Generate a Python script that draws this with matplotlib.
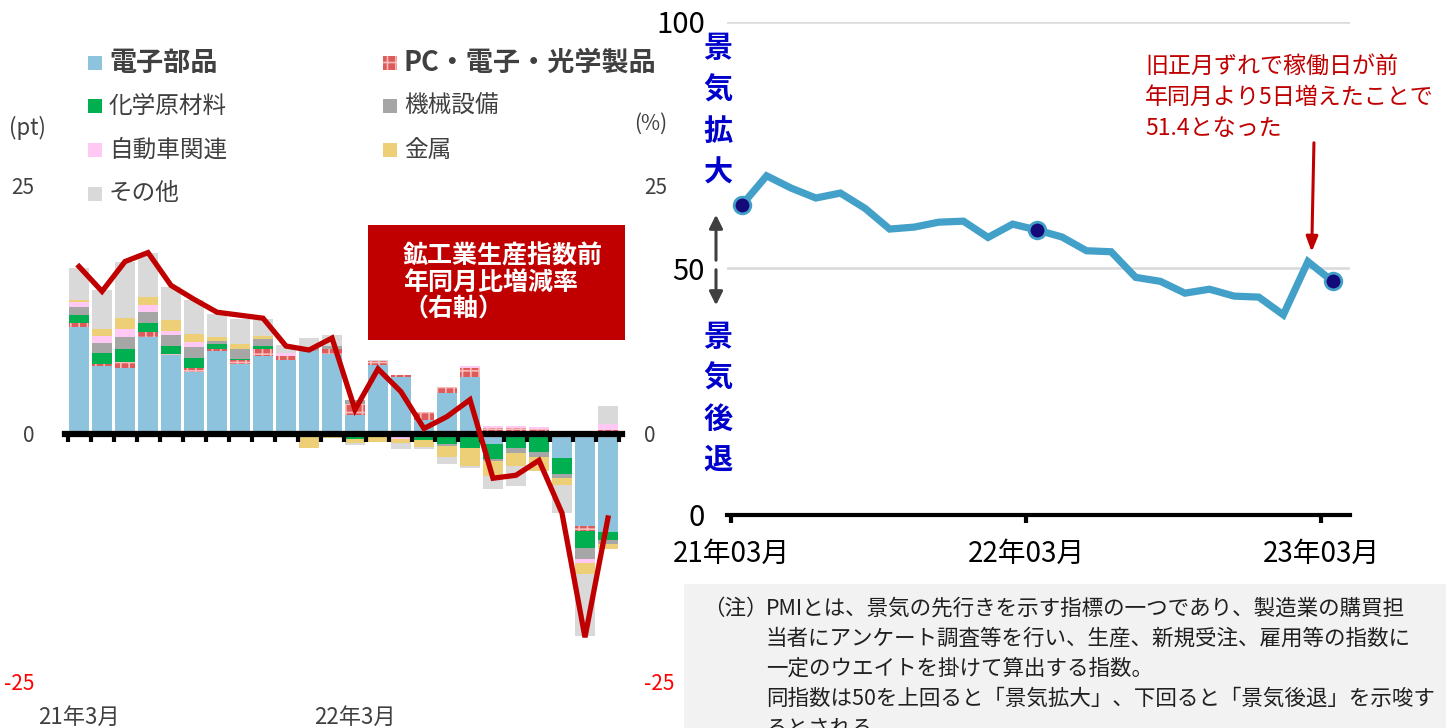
import numpy as np
import matplotlib
matplotlib.use("Agg")
import matplotlib.pyplot as plt
from matplotlib.patches import Rectangle
import matplotlib.transforms as mtransforms

plt.rcParams['font.family'] = ['Noto Sans CJK JP', 'DejaVu Sans']
plt.rcParams['hatch.linewidth'] = 1.2

W, H = 1446, 728

# ---- 左: 鉱工業生産の寄与度 (pt) と前年同月比 (%) ----
months_left = np.arange(24)           # 21年3月 .. 23年2月
left_tick_pos = [0, 12]
left_tick_labels = ['21年3月', '22年3月']

elec = [10.7, 6.76, 6.59, 9.7, 7.86, 6.19, 8.29, 7.02, 7.76, 7.36, 8.3, 8.0,
        1.84, 6.86, 5.69, 1.4, 4.08, 5.69, -1.04, 0.0, 0.0, -2.47, -9.3, -9.9]
pc = [0.4, 0.27, 0.6, 0.47, 0.17, 0.43, 0.2, 0.33, 0.77, 0.4, 0.0, 0.5,
      1.1, 0.4, 0.17, 0.77, 0.6, 0.94, 0.57, 0.57, 0.5, 0.0, -0.5, 0.4]
chem = [0.84, 1.07, 1.27, 0.94, 0.77, 0.97, 0.5, 0.17, 0.23, 0.0, -0.4, 0.0,
        -0.6, 0.0, 0.0, -0.63, -1.04, -1.5, -1.54, -1.47, -1.87, -1.57, -1.74, -0.8]
mach = [0.77, 1.0, 1.24, 1.1, 1.07, 1.1, 0.27, 0.97, 0.74, 0.0, 0.3, 0.33,
        0.45, 0.0, 0.0, 0.0, -0.2, 0.0, -0.23, -0.5, -0.5, -0.43, -1.1, -0.43]
auto = [0.5, 0.67, 0.84, 0.67, 0.4, 0.47, 0.0, 0.0, 0.0, 0.33, 0.0, 0.0,
        0.0, 0.0, -0.57, 0.0, 0.0, 0.17, 0.17, 0.17, 0.17, 0.0, -0.4, 0.53]
metal = [0.27, 0.74, 1.1, 0.87, 1.17, 0.84, 0.4, 0.47, 0.33, 0.0, -1.1, -0.5,
         -0.4, -0.83, -0.4, -0.74, -1.14, -1.74, -1.44, -1.27, -1.44, -0.67, -1.1, -0.5]
other = [3.18, 3.88, 5.65, 4.38, 3.28, 3.44, 2.37, 2.58, 1.7, 0.77, 1.0, 1.1,
         -0.17, 0.1, -0.6, -0.2, -0.67, -0.2, -1.34, -2.07, 0.0, -2.84, -6.2, 1.8]
ip_yoy = [16.8, 14.3, 17.3, 18.2, 14.9, 13.5, 12.2, 11.9, 11.6, 8.8, 8.4, 9.6,
          2.4, 6.5, 4.2, 0.5, 1.7, 3.4, -4.5, -4.2, -2.7, -8.0, -20.5, -8.5]

series_names = ['電子部品', 'PC・電子・光学製品', '化学原材料', '機械設備', '自動車関連', '金属', 'その他']
series_vals = [elec, pc, chem, mach, auto, metal, other]
series_colors = ['#8dc3dd', '#df5a5a', '#00b050', '#a6a6a6', '#ffc9f4', '#edcf78', '#d9d9d9']
pc_hatch_color = '#f6bcbc'

# ---- 右: PMI ----
pmi = [62.9, 68.8, 66.3, 64.3, 65.3, 62.2, 58.0, 58.4, 59.4, 59.6, 56.3, 59.0,
       57.8, 56.4, 53.6, 53.4, 48.2, 47.4, 45.0, 45.8, 44.4, 44.2, 40.6, 51.4, 47.4]
months_right = np.arange(25)          # 21年03月 .. 23年03月
right_tick_pos = [0, 12, 24]
right_tick_labels = ['21年03月', '22年03月', '23年03月']
marked = [0, 12, 24]

fig = plt.figure(figsize=(W / 100, H / 100), dpi=100)

# ================= left chart =================
ax1 = fig.add_axes([65 / W, 46 / H, 557 / W, 497 / H])
pos_bottom = np.zeros(24)
neg_bottom = np.zeros(24)
for name, vals, col in zip(series_names, series_vals, series_colors):
    v = np.array(vals)
    bottom = np.where(v >= 0, pos_bottom, neg_bottom)
    if name.startswith('PC'):
        ax1.bar(months_left, v, bottom=bottom, width=0.83, color=col,
                edgecolor=pc_hatch_color, hatch='++', linewidth=0, zorder=1)
    else:
        ax1.bar(months_left, v, bottom=bottom, width=0.83, color=col,
                linewidth=0, zorder=1)
    pos_bottom = pos_bottom + np.where(v >= 0, v, 0)
    neg_bottom = neg_bottom + np.where(v < 0, v, 0)

ax1.set_xlim(-0.61, 23.61)
ax1.set_ylim(-25, 25)
for s in ['top', 'left', 'right']:
    ax1.spines[s].set_visible(False)
ax1.spines['bottom'].set_position(('data', 0))
ax1.spines['bottom'].set_linewidth(4.5)
ax1.spines['bottom'].set_zorder(3)
ax1.set_xticks(np.arange(-0.5, 24, 1))
ax1.tick_params(axis='x', direction='out', length=5.5, width=3, labelbottom=False)
ax1.set_yticks([-25, 0, 25])
ax1.set_yticklabels(['-25', '0', '25'])
ax1.tick_params(axis='y', length=0, pad=22, labelsize=15, labelcolor='#404040')
ax1.get_yticklabels()[0].set_color('red')

trans = mtransforms.blended_transform_factory(ax1.transData, ax1.transAxes)
for p, lab in zip(left_tick_pos, left_tick_labels):
    ax1.text(p, -0.072, lab, transform=trans, ha='center', va='center',
             fontsize=16, color='#404040')

ax1b = ax1.twinx()
ax1b.plot(months_left, ip_yoy, color='#c00000', lw=3.8, solid_joinstyle='miter', zorder=5)
ax1b.set_ylim(-25, 25)
for s in ax1b.spines.values():
    s.set_visible(False)
ax1b.set_yticks([-25, 0, 25])
ax1b.set_yticklabels(['-25', '0', '25'])
ax1b.tick_params(axis='y', length=0, pad=16, labelsize=15, labelcolor='#404040')
ax1b.get_yticklabels()[0].set_color('red')

fig.text(9 / W, 1 - 128 / H, '(pt)', fontsize=16, color='#404040', va='center')
fig.text(634 / W, 1 - 124 / H, '(%)', fontsize=15, color='#404040', va='center')

# legend (2 columns)
leg_xy = [(88, 63), (88, 106), (88, 150), (88, 194), (383, 63), (383, 106), (383, 150)]
leg_order = [0, 2, 4, 6, 1, 3, 5]
for (lx, ly), k in zip(leg_xy, leg_order):
    if k == 1:
        fig.add_artist(Rectangle((lx / W, 1 - (ly + 7) / H), 14 / W, 14 / H,
                                 transform=fig.transFigure, facecolor=series_colors[k],
                                 edgecolor=pc_hatch_color, hatch='++', linewidth=0))
    else:
        fig.add_artist(Rectangle((lx / W, 1 - (ly + 7) / H), 14 / W, 14 / H,
                                 transform=fig.transFigure, color=series_colors[k], lw=0))
    big = k in (0, 1)
    fig.text((lx + 21) / W, 1 - ly / H, series_names[k], va='center', ha='left',
             fontsize=19.5 if big else 17, fontweight='bold' if big else 'normal',
             color='#404040')

# red box label
fig.add_artist(Rectangle((368 / W, 1 - 340 / H), 257 / W, 115 / H,
                         transform=fig.transFigure, color='#c00000', lw=0))
fig.text(403 / W, 1 - 283 / H, '鉱工業生産指数前\n年同月比増減率\n（右軸）',
         color='white', fontsize=18, fontweight='bold', ha='left', va='center',
         linespacing=1.12)

# ================= right chart =================
ax2 = fig.add_axes([727 / W, 213 / H, 623 / W, 493 / H])
ax2.set_xlim(-0.16, 25.16)
ax2.set_ylim(0, 100)
for s in ['top', 'left', 'right']:
    ax2.spines[s].set_visible(False)
ax2.spines['bottom'].set_linewidth(3)
ax2.set_yticks([0, 50, 100])
ax2.yaxis.grid(True, color='#d9d9d9', lw=1.8)
ax2.set_axisbelow(True)
ax2.tick_params(axis='y', length=0, pad=16, labelsize=21)
ax2.set_xticks(right_tick_pos)
ax2.set_xticklabels(right_tick_labels)
ax2.tick_params(axis='x', length=6, width=3, pad=11, labelsize=20)

xs = months_right + 0.45
ax2.plot(xs, pmi, color='#43a0c8', lw=5.2, solid_joinstyle='miter', zorder=3)
ax2.plot(xs[marked], np.array(pmi)[marked], 'o', ms=12, mfc='#140a7a',
         mec='#43a0c8', mew=2, zorder=4)

# annotation
ax2.annotate('', xy=(xs[23] + 0.15, 52.8), xycoords='data',
             xytext=(1314 / W, 1 - 140 / H), textcoords='figure fraction',
             arrowprops=dict(arrowstyle='-|>,head_length=0.9,head_width=0.35',
                             color='#c00000', lw=2.2))
fig.text(1145 / W, 1 - 97 / H, '旧正月ずれで稼働日が前\n年同月より5日増えたことで\n51.4となった',
         color='#c00000', fontsize=16.6, ha='left', va='center', linespacing=1.45)

# 景気拡大 / 景気後退
for j, ch in enumerate('景気拡大'):
    fig.text(718 / W, 1 - (48 + 41.5 * j) / H, ch, color='#0000cc', fontsize=21,
             fontweight='bold', ha='center', va='center')
for j, ch in enumerate('景気後退'):
    fig.text(718 / W, 1 - (337 + 41 * j) / H, ch, color='#0000cc', fontsize=21,
             fontweight='bold', ha='center', va='center')
ax2.annotate('', xy=(716 / W, 1 - 212 / H), xycoords='figure fraction',
             xytext=(716 / W, 1 - 263 / H), textcoords='figure fraction',
             arrowprops=dict(arrowstyle='-|>,head_length=0.8,head_width=0.4',
                             color='#404040', lw=2.2))
ax2.annotate('', xy=(716 / W, 1 - 308 / H), xycoords='figure fraction',
             xytext=(716 / W, 1 - 267 / H), textcoords='figure fraction',
             arrowprops=dict(arrowstyle='-|>,head_length=0.8,head_width=0.4',
                             color='#404040', lw=2.2))

# note box
fig.add_artist(Rectangle((684 / W, 0), (W - 684) / W, 144 / H,
                         transform=fig.transFigure, color='#f2f2f2', lw=0, zorder=0))
note_lines = ['PMIとは、景気の先行きを示す指標の一つであり、製造業の購買担',
              '当者にアンケート調査等を行い、生産、新規受注、雇用等の指数に',
              '一定のウエイトを掛けて算出する指数。',
              '同指数は50を上回ると「景気拡大」、下回ると「景気後退」を示唆す',
              'るとされる。']
fig.text(703 / W, 1 - 609 / H, '（注）', fontsize=15.5, color='#202020', ha='left', va='center')
for j, line in enumerate(note_lines):
    fig.text(766 / W, 1 - (609 + 30 * j) / H, line, fontsize=15.5, color='#202020',
             ha='left', va='center')

fig.savefig('out.png', dpi=100)
